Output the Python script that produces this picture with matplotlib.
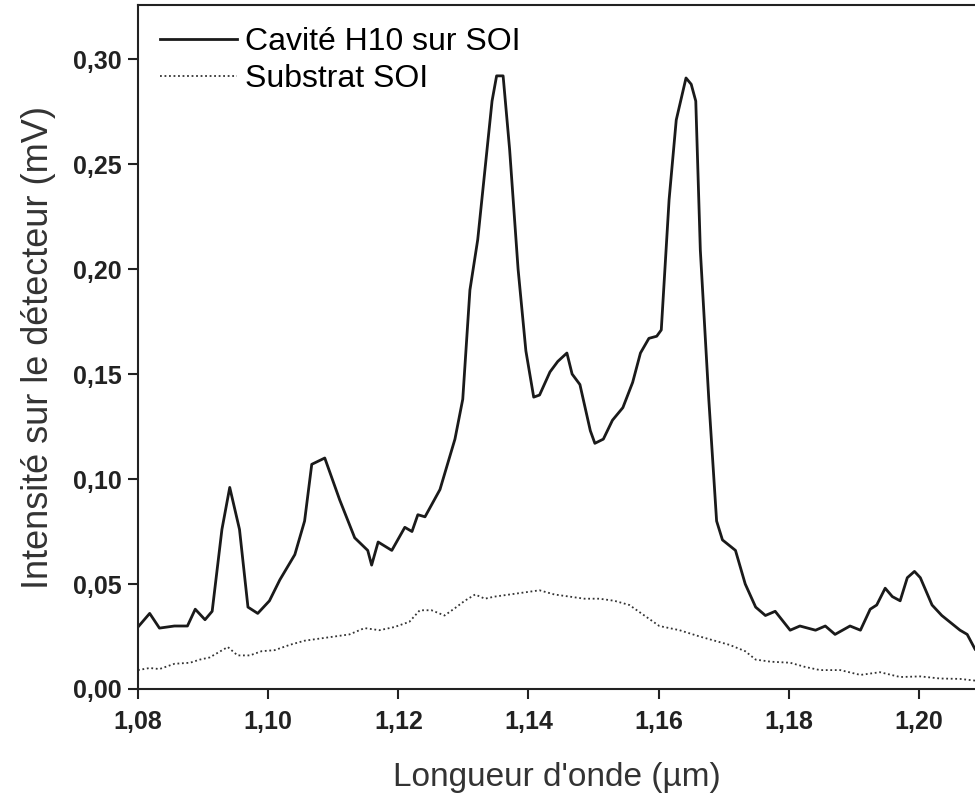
import matplotlib
matplotlib.use("Agg")
import matplotlib.pyplot as plt
from matplotlib.ticker import FuncFormatter, MultipleLocator

# Cavité H10 sur SOI (solid line)
cav_x = [1.0800, 1.0818, 1.0833, 1.0856, 1.0876, 1.0888, 1.0903, 1.0914, 1.0929, 1.0941,
         1.0956, 1.0969, 1.0984, 1.1002, 1.1018, 1.1041, 1.1056, 1.1067, 1.1087, 1.1110,
         1.1133, 1.1153, 1.1159, 1.1169, 1.1190, 1.1210, 1.1221, 1.1230, 1.1241, 1.1264,
         1.1287, 1.1299, 1.1310, 1.1322, 1.1333, 1.1344, 1.1351, 1.1361, 1.1371, 1.1384,
         1.1396, 1.1408, 1.1417, 1.1433, 1.1445, 1.1459, 1.1467, 1.1479, 1.1495, 1.1502,
         1.1515, 1.1529, 1.1545, 1.1560, 1.1572, 1.1585, 1.1597, 1.1604, 1.1616, 1.1627,
         1.1642, 1.1650, 1.1657, 1.1664, 1.1677, 1.1689, 1.1698, 1.1718, 1.1733, 1.1749,
         1.1764, 1.1779, 1.1802, 1.1817, 1.1841, 1.1856, 1.1871, 1.1894, 1.1910, 1.1925,
         1.1935, 1.1948, 1.1959, 1.1971, 1.1982, 1.1993, 1.2002, 1.2020, 1.2035, 1.2051,
         1.2063, 1.2074, 1.2086]
cav_y = [0.0295, 0.0360, 0.0290, 0.0300, 0.0300, 0.0380, 0.0330, 0.0370, 0.0760, 0.0960,
         0.0760, 0.0390, 0.0360, 0.0420, 0.0520, 0.0640, 0.0800, 0.1070, 0.1100, 0.0900,
         0.0720, 0.0660, 0.0590, 0.0700, 0.0660, 0.0770, 0.0750, 0.0830, 0.0820, 0.0950,
         0.1190, 0.1380, 0.1900, 0.2140, 0.2470, 0.2800, 0.2920, 0.2920, 0.2570, 0.2000,
         0.1610, 0.1390, 0.1400, 0.1510, 0.1560, 0.1600, 0.1500, 0.1450, 0.1230, 0.1170,
         0.1190, 0.1280, 0.1340, 0.1460, 0.1600, 0.1670, 0.1680, 0.1710, 0.2330, 0.2710,
         0.2910, 0.2880, 0.2800, 0.2090, 0.1380, 0.0800, 0.0710, 0.0660, 0.0500, 0.0390,
         0.0350, 0.0370, 0.0280, 0.0300, 0.0280, 0.0300, 0.0260, 0.0300, 0.0280, 0.0380,
         0.0400, 0.0480, 0.0440, 0.0420, 0.0530, 0.0560, 0.0530, 0.0400, 0.0350, 0.0310,
         0.0280, 0.0260, 0.0190]

# Substrat SOI (dotted line)
sub_x = [1.0800, 1.0818, 1.0833, 1.0856, 1.0880, 1.0895, 1.0910, 1.0938, 1.0953, 1.0972,
         1.0990, 1.1010, 1.1033, 1.1056, 1.1079, 1.1102, 1.1125, 1.1148, 1.1171, 1.1194,
         1.1217, 1.1233, 1.1251, 1.1271, 1.1287, 1.1302, 1.1318, 1.1333, 1.1348, 1.1371,
         1.1394, 1.1417, 1.1440, 1.1463, 1.1486, 1.1509, 1.1532, 1.1555, 1.1578, 1.1601,
         1.1632, 1.1663, 1.1686, 1.1709, 1.1733, 1.1749, 1.1772, 1.1802, 1.1825, 1.1848,
         1.1879, 1.1910, 1.1940, 1.1971, 1.2002, 1.2032, 1.2063, 1.2086]
sub_y = [0.0090, 0.0100, 0.0095, 0.0120, 0.0125, 0.0140, 0.0150, 0.0200, 0.0160, 0.0160,
         0.0180, 0.0185, 0.0210, 0.0230, 0.0240, 0.0250, 0.0260, 0.0290, 0.0280, 0.0295,
         0.0320, 0.0375, 0.0375, 0.0350, 0.0385, 0.0420, 0.0450, 0.0430, 0.0440, 0.0450,
         0.0460, 0.0470, 0.0450, 0.0440, 0.0430, 0.0430, 0.0420, 0.0400, 0.0350, 0.0300,
         0.0280, 0.0250, 0.0230, 0.0210, 0.0180, 0.0140, 0.0130, 0.0125, 0.0105, 0.0090,
         0.0090, 0.0067, 0.0080, 0.0057, 0.0060, 0.0050, 0.0048, 0.0040]

x_ticks = [1.08, 1.10, 1.12, 1.14, 1.16, 1.18, 1.20]

plt.rcParams['font.family'] = ['Liberation Sans', 'DejaVu Sans']

fig = plt.figure(figsize=(9.75, 7.98), dpi=100)
ax = fig.add_axes([0.1415, 0.1366, 0.8585, 0.857])

ax.plot(cav_x, cav_y, color='#1a1a1a', lw=2.0, label='Cavité H10 sur SOI')
ax.plot(sub_x, sub_y, color='#333333', lw=1.3, linestyle=(0, (1, 1.5)), label='Substrat SOI')

ax.set_xlim(1.08, 1.2086)
ax.set_ylim(0, 0.3257)
ax.set_xticks(x_ticks)
ax.yaxis.set_major_locator(MultipleLocator(0.05))
comma = FuncFormatter(lambda v, pos: ('%.2f' % v).replace('.', ','))
ax.xaxis.set_major_formatter(comma)
ax.yaxis.set_major_formatter(comma)

for s in ax.spines.values():
    s.set_linewidth(1.5)
    s.set_color('#222222')
ax.spines['right'].set_visible(False)

ax.tick_params(direction='out', length=7, width=1.5, colors='#222222', pad=5)
ax.tick_params(axis='x', pad=8)
for lbl in ax.get_xticklabels() + ax.get_yticklabels():
    lbl.set_fontsize(18)
    lbl.set_fontweight('bold')

ax.set_xlabel("Longueur d'onde (µm)", fontsize=24, color='#333333', labelpad=20)
ax.set_ylabel("Intensité sur le détecteur (mV)", fontsize=26, color='#333333', labelpad=12)

ax.legend(loc='upper left', frameon=False, fontsize=23, handlelength=2.4,
          handletextpad=0.25, labelspacing=0.2, borderaxespad=0.3)

fig.savefig('out.png', dpi=100)
